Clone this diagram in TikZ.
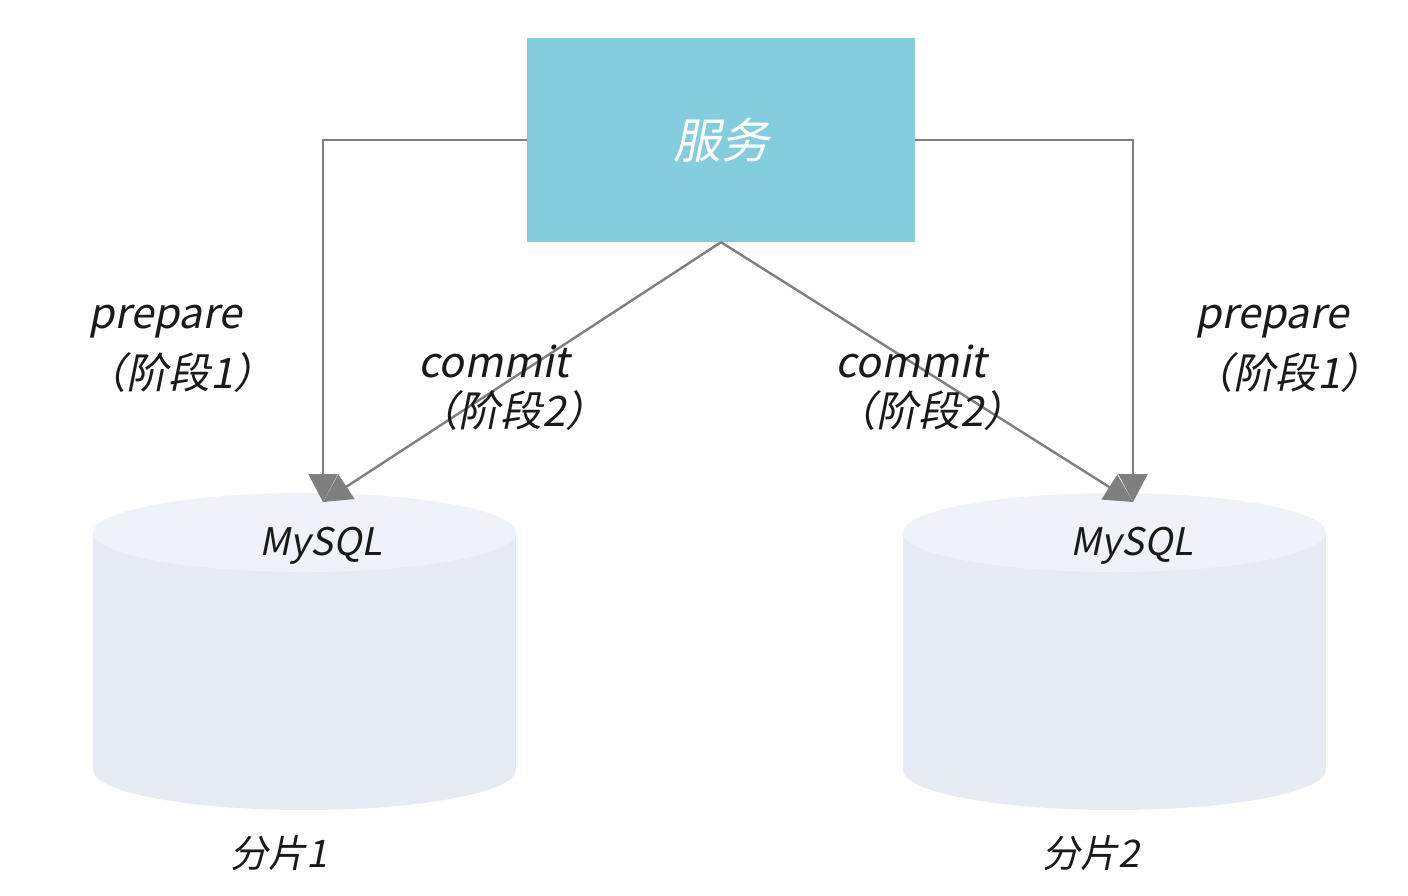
\documentclass[tikz,border=0pt]{standalone}
\usepackage{fontspec}
\setmainfont{Noto Sans CJK SC}[FakeSlant=0.2]
\usetikzlibrary{arrows.meta}
\definecolor{boxblue}{HTML}{84CDDE}
\definecolor{cylbody}{HTML}{E7ECF4}
\definecolor{cyltop}{HTML}{EFF3F9}
\definecolor{linegray}{HTML}{7F7F7F}
\definecolor{txt}{HTML}{1A1A1A}
\tikzset{
  svcbox/.style={fill=boxblue, draw=none, minimum width=388pt, minimum height=204pt, inner sep=0pt, text=white, font=\fontsize{48}{52}\selectfont},
  conn/.style={draw=linegray, line width=2.4pt, -{Triangle[length=28pt,width=29pt]}},
  lbl/.style={text=txt, font=\fontsize{42}{48}\selectfont, align=center, inner sep=0pt},
  dblbl/.style={text=txt, font=\fontsize{38}{44}\selectfont, inner sep=0pt},
}
\newcommand{\mycyl}[1]{%
  \fill[cylbody] (#1-211.5,532) rectangle (#1+211.5,770);
  \fill[cylbody] (#1,770) ellipse [x radius=211.5, y radius=40];
  \fill[cyltop] (#1,532.5) ellipse [x radius=211.5, y radius=39.5];
}
\begin{document}
\begin{tikzpicture}[x=1pt,y=-1pt]
\path[use as bounding box] (0,0) rectangle (1408,896);
% cylinders
\mycyl{304.5}
\mycyl{1114.5}
\coordinate (db1tip) at (323,502);
\coordinate (db2tip) at (1133,502);
\node[dblbl] (my1) at (321,546) {MySQL};
\node[dblbl] (my2) at (1132,546) {MySQL};
\node[dblbl] (sh1) at (279,853) {分片1};
\node[dblbl] (sh2) at (1091,853) {分片2};
% service
\node[svcbox] (svc) at (721,140) {服务};
% connectors
\draw[conn] (svc.west) -| (db1tip);
\draw[conn] (svc.east) -| (db2tip);
\draw[conn] (svc.south) -- (db1tip);
\draw[conn] (svc.south) -- (db2tip);
% labels
\node[lbl] (p1) at (165,322) {prepare};
\node[lbl] (p1b) at (180,373) {（阶段1）};
\node[lbl] (p2) at (1272,322) {prepare};
\node[lbl] (p2b) at (1287,373) {（阶段1）};
\node[lbl] (c1) at (494,361) {commit};
\node[lbl] (c1b) at (512,411) {（阶段2）};
\node[lbl] (c2) at (911,361) {commit};
\node[lbl] (c2b) at (930,411) {（阶段2）};
\end{tikzpicture}
\end{document}
